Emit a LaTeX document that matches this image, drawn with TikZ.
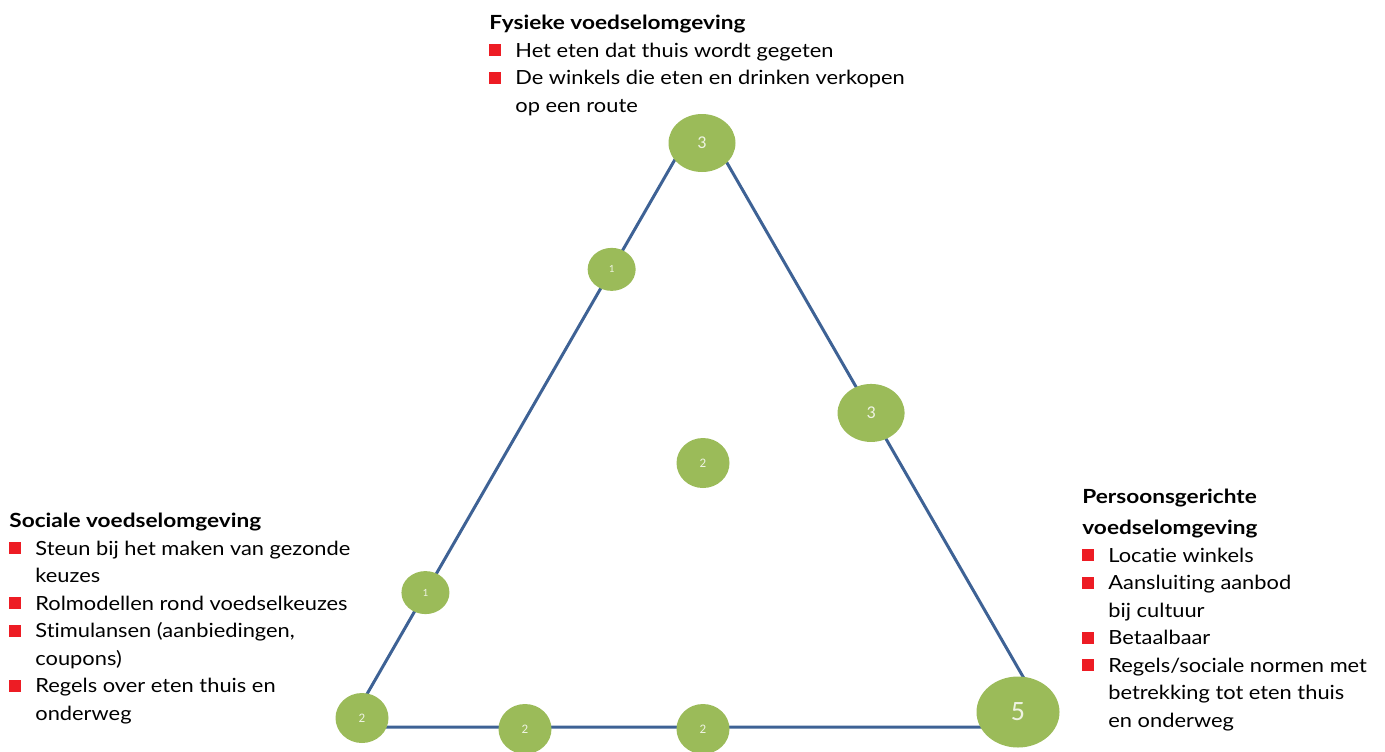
\documentclass[tikz,border=0pt]{standalone}
\usepackage{fontspec}
\setmainfont{Lato}[FakeStretch=1.12, BoldFeatures={FakeStretch=1.16}, Ligatures={NoCommon}]
\newfontfamily\digitfont{Carlito}
\usetikzlibrary{shapes,calc}
\definecolor{sideblue}{HTML}{3E6295}
\definecolor{dotgreen}{HTML}{9BBB59}
\definecolor{dotlabel}{HTML}{EEF3E2}
\definecolor{bulletred}{HTML}{ED1C24}
\newcommand{\redsq}{\makebox[13pt][l]{\textcolor{bulletred}{\rule[0.5pt]{6pt}{6pt}}}}
\newcommand{\hangin}{\hspace*{13pt}}

\begin{document}
\begin{tikzpicture}[x=0.5pt,y=-0.5pt]
\tikzstyle{dot}=[ellipse, fill=dotgreen, inner sep=0pt, text=dotlabel]
\tikzstyle{smalldot}=[dot, minimum width=24pt, minimum height=21.5pt, font=\digitfont\fontsize{5.5}{5.5}\selectfont]
\tikzstyle{middot}=[dot, minimum width=26.5pt, minimum height=25pt, font=\digitfont\fontsize{6.5}{6.5}\selectfont]
\tikzstyle{bigdot}=[dot, minimum width=33.5pt, minimum height=29pt, font=\digitfont\fontsize{9}{9}\selectfont]
\tikzstyle{hugedot}=[dot, minimum width=41.5pt, minimum height=35.5pt, font=\digitfont\fontsize{14}{14}\selectfont]
\tikzstyle{side}=[line width=1.5pt, draw=sideblue, line join=round]
\tikzstyle{block}=[anchor=base west, inner sep=0pt, align=left, font=\fontsize{9.75}{13.75}\selectfont]

  \useasboundingbox (0,0) rectangle (1385,751);

  % triangle, corners sit behind the dots
  \coordinate (apex)  at (700,116);
  \coordinate (left)  at (348,727);
  \coordinate (right) at (1052,727);
  \draw[side] (apex) -- (left) -- (right) -- cycle;

  % dots
  \node[bigdot]   (topdot)    at (702,143)                  {3};
  \node[smalldot] (upleft)    at ($(apex)!0.251!(left)$)    {1};
  \node[smalldot] (lowleft)   at ($(apex)!0.780!(left)$)    {1};
  \node[bigdot]   (midright)  at ($(apex)!0.486!(right)$)   {3};
  \node[middot]   (centre)    at (703,463)                  {2};
  \node[middot]   (leftdot)   at (362,718)                  {2};
  \node[middot]   (bottom1)   at (525,729)                  {2};
  \node[middot]   (bottom2)   at (703,729)                  {2};
  \node[hugedot]  (rightdot)  at (1018,712)                 {5};

  % texts (anchored on the baseline of their last line)
  \node[block] (fysiek) at (489,112) {\textbf{Fysieke voedselomgeving}\\
    \redsq Het eten dat thuis wordt gegeten\\
    \redsq De winkels die eten en drinken verkopen\\
    \hangin op een route};

  \node[block] (sociaal) at (9,720) {\textbf{Sociale voedselomgeving}\\
    \redsq Steun bij het maken van gezonde\\
    \hangin keuzes\\
    \redsq Rolmodellen rond voedselkeuzes\\
    \redsq Stimulansen (aanbiedingen,\\
    \hangin coupons)\\
    \redsq Regels over eten thuis en\\
    \hangin onderweg};

  \node[block] (persoon) at (1082,727) {\textbf{Persoonsgerichte}\\[1.75pt]
    \textbf{voedselomgeving}\\
    \redsq Locatie winkels\\
    \redsq Aansluiting aanbod\\
    \hangin bij cultuur\\
    \redsq Betaalbaar\\
    \redsq Regels/sociale normen met\\
    \hangin betrekking tot eten thuis\\
    \hangin en onderweg};

\end{tikzpicture}
\end{document}
